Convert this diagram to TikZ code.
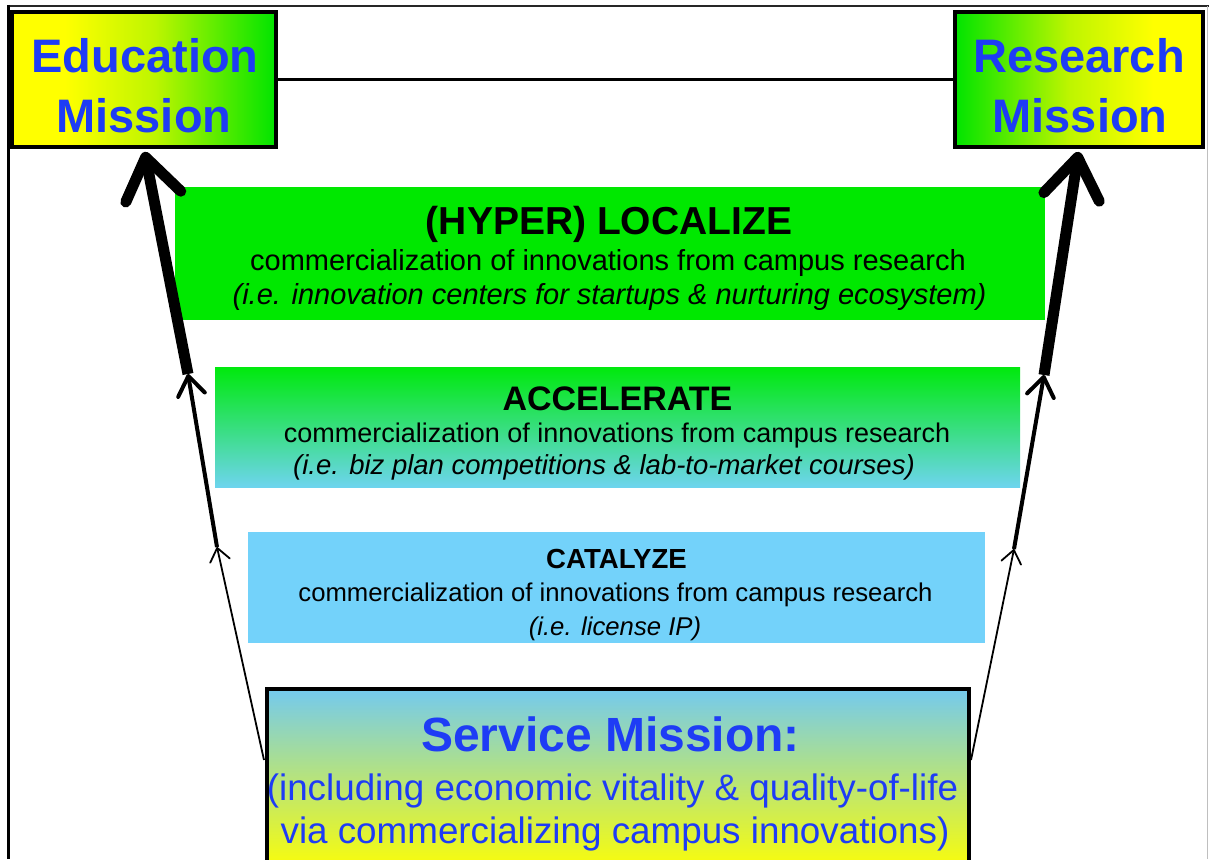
\documentclass[tikz,border=0pt]{standalone}
\usepackage{fontspec}
\setmainfont{Liberation Sans}
\usetikzlibrary{arrows.meta}
\definecolor{missionblue}{RGB}{30,60,245}
\definecolor{stagegreen}{RGB}{0,232,0}
\definecolor{stageblue}{RGB}{115,210,250}
\definecolor{missionyellow}{RGB}{255,255,0}
\definecolor{missiongreen}{RGB}{0,228,0}
\definecolor{missionmid}{RGB}{190,245,0}
\pgfdeclarehorizontalshading{edushade}{100bp}{color(0bp)=(missionyellow); color(35bp)=(missionyellow); color(52bp)=(missionmid); color(75bp)=(missiongreen); color(100bp)=(missiongreen)}
\pgfdeclarehorizontalshading{resshade}{100bp}{color(0bp)=(missiongreen); color(25bp)=(missiongreen); color(48bp)=(missionmid); color(65bp)=(missionyellow); color(100bp)=(missionyellow)}
\begin{document}
\begin{tikzpicture}[x=1pt, y=-1pt,
    missionbox/.style={draw=black, line width=4pt, inner sep=0pt},
    stagebox/.style={inner sep=0pt},
    bluebig/.style={text=missionblue, font=\fontsize{47}{60}\selectfont\bfseries, inner sep=0pt, anchor=base},
    stagehead/.style={text=black, font=\fontsize{#1}{#1}\selectfont\bfseries, inner sep=0pt, anchor=base},
    stageline/.style={text=black, font=\fontsize{#1}{#1}\selectfont, inner sep=0pt, anchor=base},
    stagenote/.style={text=black, font=\fontsize{#1}{#1}\selectfont\itshape, inner sep=0pt, anchor=base},
    thinarrow/.style={line width=1.8pt, -{Straight Barb[length=13pt, width=20pt, round]}},
    midarrow/.style={line width=4pt, -{Straight Barb[length=19pt, width=27pt, round]}},
    thickarrow/.style={line width=11pt, -{Straight Barb[length=40pt, width=56pt, round]}}]
\useasboundingbox (0,0) rectangle (1209,859);
\clip (0,0) rectangle (1209,859);
% frame
\draw[black!85, line width=2pt] (7,6) -- (1209,6);
\draw[line width=3pt] (8,5) -- (8,859);
\draw[black!25, line width=1pt] (1207.5,6) -- (1207.5,859);
% missions
\node[missionbox, shading=edushade, minimum width=264, minimum height=135] (edu) at (144,79.5) {};
\node[missionbox, shading=resshade, minimum width=248, minimum height=135] (res) at (1079,79.5) {};
\node[bluebig] (edu1) at (145,72) {Education};
\node[bluebig] (edu2) at (144,132) {Mission};
\node[bluebig] (res1) at (1079,72) {Research};
\node[bluebig] (res2) at (1080,132) {Mission};
\draw[line width=2.5pt] (edu.east) -- (res.west);
% stages
\node[stagebox, fill=stagegreen, minimum width=870, minimum height=133] (loc) at (610,253.5) {};
\node[stagehead=39] (loc1) at (609,234) {(HYPER) LOCALIZE};
\node[stageline=29] (loc2) at (608,270) {commercialization of innovations from campus research};
\node[stagenote=29] (loc3) at (609.5,304) {(i.e. innovation centers for startups \& nurturing ecosystem)};
\node[stagebox, top color=stagegreen!95!cyan, middle color=stagegreen!55!stageblue, bottom color=stageblue!95!green, minimum width=805, minimum height=120] (acc) at (617.5,427) {};
\node[stagehead=34] (acc1) at (617.5,410) {ACCELERATE};
\node[stageline=27] (acc2) at (617,442) {commercialization of innovations from campus research};
\node[stagenote=27.5] (acc3) at (604,474) {(i.e. biz plan competitions \& lab-to-market courses)};
\node[stagebox, fill=stageblue, minimum width=737, minimum height=111] (cat) at (616.5,587.5) {};
\node[stagehead=27.6] (cat1) at (616.5,568) {CATALYZE};
\node[stageline=25.7] (cat2) at (615.5,601) {commercialization of innovations from campus research};
\node[stagenote=25.7] (cat3) at (615,635) {(i.e. license IP)};
% service
\node[missionbox, top color=stageblue!90!gray, bottom color=missionyellow, minimum width=702, minimum height=186] (srv) at (618,782) {};
\node[bluebig, font=\fontsize{48}{48}\selectfont\bfseries] (srv1) at (610.5,751) {Service Mission:};
\node[bluebig, font=\fontsize{36.8}{36.8}\selectfont] (srv2) at (612.5,800) {(including economic vitality \& quality-of-life};
\node[bluebig, font=\fontsize{36.8}{36.8}\selectfont] (srv3) at (615,843) {via commercializing campus innovations)};
% arrows
\coordinate (lA) at (264,760);
\coordinate (lB) at (217,547);
\coordinate (lC) at (188,374);
\coordinate (rA) at (971,760);
\coordinate (rB) at (1014,549);
\coordinate (rC) at (1044,375);
\draw[thinarrow] (lA) -- (lB);
\draw[midarrow] (lB) -- (lC);
\draw[thickarrow, shorten >=3pt] (lC) -- (edu.south);
\draw[thinarrow] (rA) -- (rB);
\draw[midarrow] (rB) -- (rC);
\draw[thickarrow, shorten >=3pt] (rC) -- (res.south);
\end{tikzpicture}
\end{document}
